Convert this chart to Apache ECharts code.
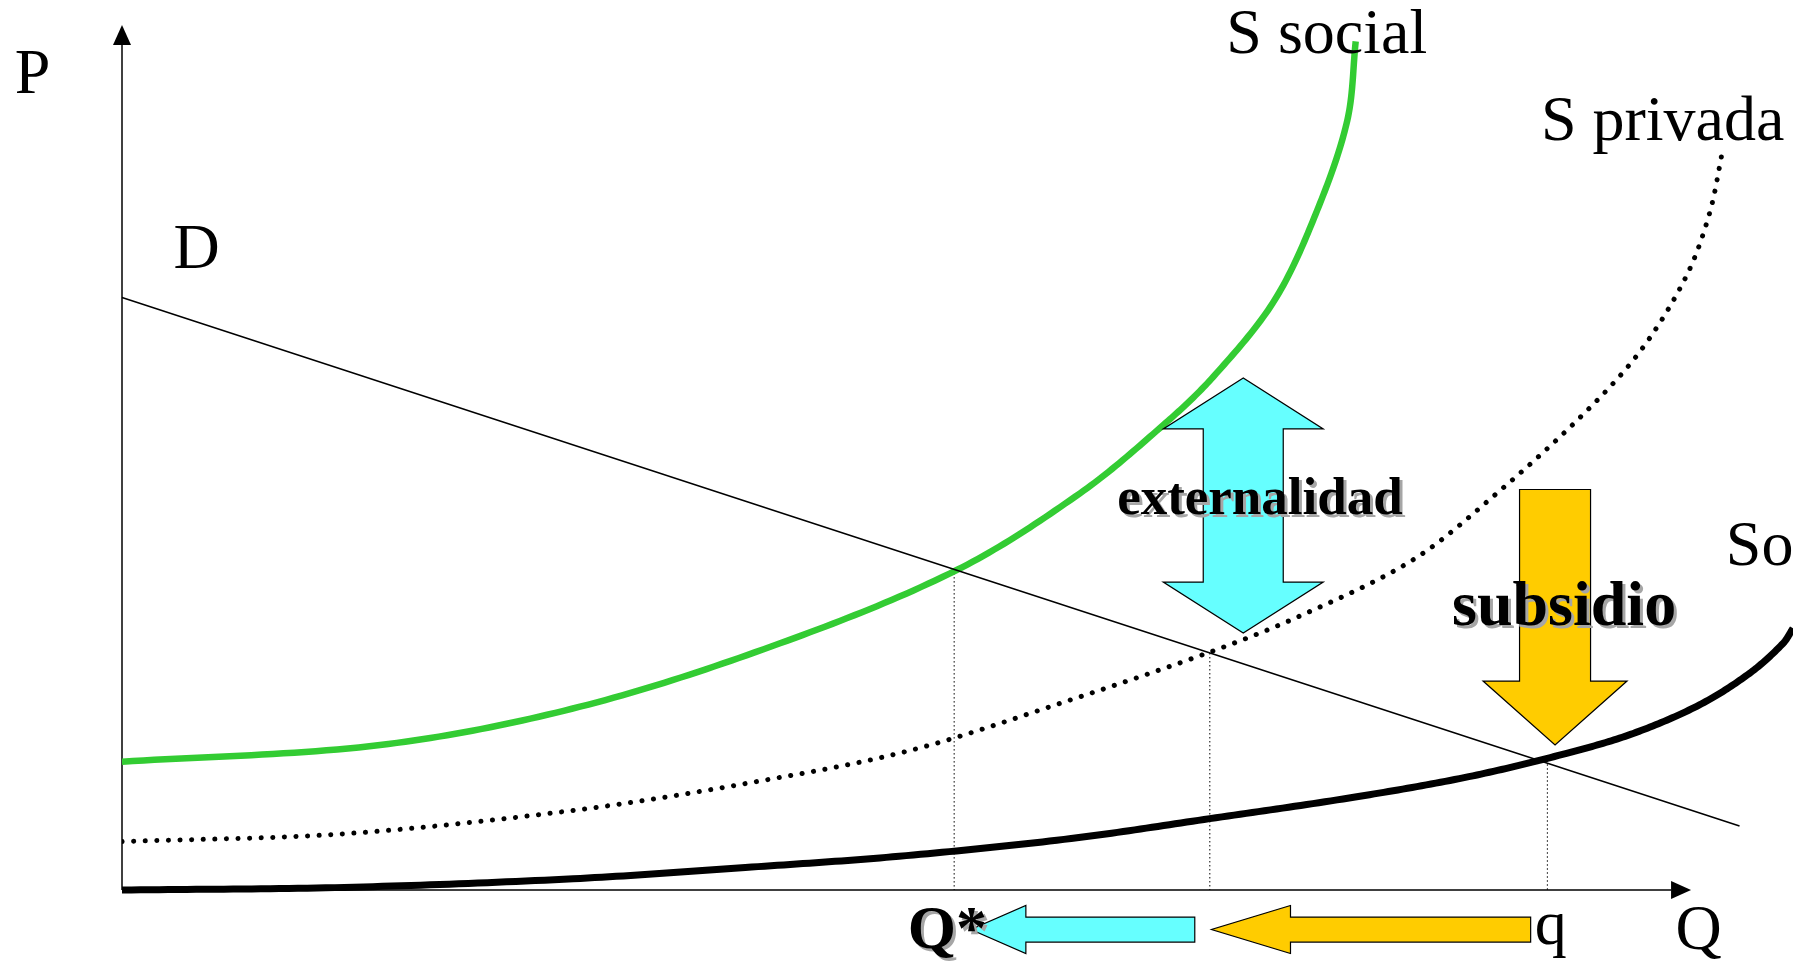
<!DOCTYPE html>
<html>
<head>
<meta charset="utf-8">
<title>Externalidad y subsidio</title>
<script src="https://cdn.jsdelivr.net/npm/echarts@6/dist/echarts.min.js"></script>
<style>
  html, body { margin: 0; padding: 0; background: #fff; }
  #chart { width: 1793px; height: 967px; }
</style>
</head>
<body>
<div id="chart"></div>
<script>
// demanda (D)
var demandX = [0, 96.8];
var demandY = [68.5, 7.4];

// S social (verde)
var socialX = [0, 15.44, 27.41, 39.38, 49.95, 57.33, 62.32, 65.31, 68.98, 71.53, 73.33, 73.83];
var socialY = [14.83, 16.76, 21.19, 28.52, 36.99, 45.86, 53.76, 59.34, 68.2, 78.6, 89.0, 98.1];

// S privada (punteada)
var privadaX = [0, 13.3, 27.0, 37.3, 47.1, 56.8, 65.1, 70.4, 77.2, 82.3, 87.5, 90.9, 93.6, 95.0, 95.8];
var privadaY = [5.6, 6.5, 9.2, 12.3, 16.1, 22.0, 27.5, 31.6, 38.1, 45.9, 55.1, 62.4, 70.9, 78.2, 85.6];

// So (negra, con subsidio)
var soX = [0, 13.3, 27.0, 37.3, 46.5, 56.8, 65.1, 73.8, 80.6, 86.45, 90.44, 94.4, 97.4, 99.4, 100];
var soY = [0.0, 0.3, 1.3, 2.6, 3.9, 5.95, 8.25, 10.75, 13.1, 15.8, 18.1, 21.4, 25.05, 28.5, 30.25];

// lineas de referencia verticales (Q*, intermedia, q)
var dropX = [49.8, 65.1, 85.3];
var dropTop = [37.1, 27.4, 15.0];

// flechas: [x desde, y desde, x hasta, y hasta]
var arrowNames = ['externalidad', 'subsidio', 'haciaQstar', 'desdeq'];
var arrowEnds = [
  [67.1, 59.2, 67.1, 29.7],
  [85.76, 46.3, 85.76, 16.76],
  [64.2, -4.57, 50.8, -4.57],
  [84.3, -4.57, 65.2, -4.57]
];

// ejes: origen -> punta
var axisEnds = [
  [0, 0, 0, 100],
  [0, 0, 93.9, 0]
];

// textos
var labelNames = ['P', 'D', 'S social', 'S privada', 'So', 'Q*', 'q', 'Q', 'externalidad', 'subsidio'];
var labelX = [-5.36, 4.46, 72.1, 92.2, 95.98, 49.4, 85.5, 94.35, 68.1, 86.3];
var labelY = [94.1, 73.8, 98.7, 88.6, 39.5, -4.8, -4.25, -4.9, 45.1, 32.5];

var serif = "'Liberation Serif', 'Times New Roman', serif";

// curvas de oferta y su trazo
var curves = [
  {xs: privadaX, ys: privadaY, style: {stroke: '#000', lineWidth: 5, lineDash: [0.1, 11.5], lineCap: 'round'}},
  {xs: soX, ys: soY, style: {stroke: '#000', lineWidth: 7}},
  {xs: socialX, ys: socialY, style: {stroke: '#33CC33', lineWidth: 6.5, lineCap: 'butt'}}
];

// curva suave (tangentes por diferencias, Bezier cubica) sobre los puntos ya en pixeles
function smoothPath(pts, steps) {
  var out = [pts[0]];
  var n = pts.length;
  function d(a, b) { return Math.sqrt((a[0] - b[0]) * (a[0] - b[0]) + (a[1] - b[1]) * (a[1] - b[1])); }
  function tangent(i) {
    var a = pts[Math.max(i - 1, 0)], b = pts[Math.min(i + 1, n - 1)];
    var l = d(a, pts[i]) + d(pts[i], b);
    return [(b[0] - a[0]) / l, (b[1] - a[1]) / l];
  }
  for (var i = 0; i < n - 1; i++) {
    var p1 = pts[i], p2 = pts[i + 1];
    var len = d(p1, p2) / 3;
    var t1 = tangent(i), t2 = tangent(i + 1);
    var c1 = [p1[0] + t1[0] * len, p1[1] + t1[1] * len];
    var c2 = [p2[0] - t2[0] * len, p2[1] - t2[1] * len];
    for (var s = 1; s <= steps; s++) {
      var t = s / steps, u = 1 - t;
      out.push([
        u * u * u * p1[0] + 3 * u * u * t * c1[0] + 3 * u * t * t * c2[0] + t * t * t * p2[0],
        u * u * u * p1[1] + 3 * u * u * t * c1[1] + 3 * u * t * t * c2[1] + t * t * t * p2[1]
      ]);
    }
  }
  return out;
}

// estilo de cada flecha
var arrowStyle = {
  externalidad: {fill: '#66FFFF', shaft: 80, head: 160, headLen: 51, both: true},
  subsidio: {fill: '#FFCC00', shaft: 71, head: 144, headLen: 64, both: false},
  haciaQstar: {fill: '#66FFFF', shaft: 25, head: 48, headLen: 55, both: false},
  desdeq: {fill: '#FFCC00', shaft: 25, head: 48, headLen: 79, both: false}
};

function arrowPoints(p1, p2, shaftW, headW, headL, both) {
  var dx = p2[0] - p1[0], dy = p2[1] - p1[1];
  var len = Math.sqrt(dx * dx + dy * dy);
  var ux = dx / len, uy = dy / len, nx = -uy, ny = ux;
  function pt(t, s) { return [p1[0] + ux * t + nx * s, p1[1] + uy * t + ny * s]; }
  var hs = shaftW / 2, hh = headW / 2;
  if (both) {
    return [pt(0, 0), pt(headL, hh), pt(headL, hs), pt(len - headL, hs), pt(len - headL, hh),
            pt(len, 0), pt(len - headL, -hh), pt(len - headL, -hs), pt(headL, -hs), pt(headL, -hh)];
  }
  return [pt(0, hs), pt(len - headL, hs), pt(len - headL, hh), pt(len, 0),
          pt(len - headL, -hh), pt(len - headL, -hs), pt(0, -hs)];
}

var labelStyles = {
  'Q*': {fontWeight: 'bold', fontSize: 62, shadow: true},
  'externalidad': {fontWeight: 'bold', fontSize: 53, shadow: true},
  'subsidio': {fontWeight: 'bold', fontSize: 64, shadow: true},
  'So': {align: 'left'}
};

var chart = echarts.init(document.getElementById('chart'), null, {renderer: 'canvas'});

var option = {
  backgroundColor: '#ffffff',
  animation: false,
  grid: {left: 122, right: 0, top: 25, bottom: 7.8},
  xAxis: {type: 'value', min: 0, max: 100, show: false},
  yAxis: {type: 'value', min: -8, max: 100, show: false},
  series: [
    {
      // ejes con flecha
      type: 'custom',
      z: 1,
      silent: true,
      data: axisEnds,
      renderItem: function (params, api) {
        var p1 = api.coord([api.value(0), api.value(1)]);
        var p2 = api.coord([api.value(2), api.value(3)]);
        var dx = p2[0] - p1[0], dy = p2[1] - p1[1];
        var len = Math.sqrt(dx * dx + dy * dy);
        var ux = dx / len, uy = dy / len;
        var hl = 20, hw = 9;
        var base = [p2[0] - ux * hl, p2[1] - uy * hl];
        return {
          type: 'group',
          children: [
            {type: 'line', shape: {x1: p1[0], y1: p1[1], x2: base[0], y2: base[1]},
             style: {stroke: '#000', lineWidth: 1.5}},
            {type: 'polygon', shape: {points: [p2, [base[0] - uy * hw, base[1] + ux * hw], [base[0] + uy * hw, base[1] - ux * hw]]},
             style: {fill: '#000'}}
          ]
        };
      }
    },
    {
      type: 'custom',
      z: 1,
      silent: true,
      data: dropX.map(function (x, i) { return [x, dropTop[i]]; }),
      renderItem: function (params, api) {
        var top = api.coord([api.value(0), api.value(1)]);
        var bottom = api.coord([api.value(0), 0]);
        return {type: 'line', shape: {x1: top[0], y1: top[1], x2: bottom[0], y2: bottom[1]},
                style: {stroke: '#000', lineWidth: 1, lineDash: [1.5, 2.5]}};
      }
    },
    {
      name: 'D',
      type: 'line',
      z: 2,
      data: demandX.map(function (x, i) { return [x, demandY[i]]; }),
      symbol: 'none',
      lineStyle: {color: '#000', width: 1.5}
    },
    {
      // S privada, So, S social
      type: 'custom',
      z: 2,
      silent: true,
      clip: true,
      data: curves.map(function (c) { return [c.xs[0], c.ys[0]]; }),
      renderItem: function (params, api) {
        var c = curves[params.dataIndex];
        var pts = c.xs.map(function (x, i) { return api.coord([x, c.ys[i]]); });
        return {
          type: 'polyline',
          shape: {points: smoothPath(pts, 24)},
          style: Object.assign({fill: null}, c.style)
        };
      }
    },
    {
      type: 'custom',
      z: 3,
      silent: true,
      data: arrowEnds,
      renderItem: function (params, api) {
        var st = arrowStyle[arrowNames[params.dataIndex]];
        var p1 = api.coord([api.value(0), api.value(1)]);
        var p2 = api.coord([api.value(2), api.value(3)]);
        return {
          type: 'polygon',
          shape: {points: arrowPoints(p1, p2, st.shaft, st.head, st.headLen, st.both)},
          style: {fill: st.fill, stroke: '#000', lineWidth: 1.2}
        };
      }
    },
    {
      // textos (las negritas llevan sombra gris)
      type: 'custom',
      z: 4,
      silent: true,
      data: labelNames.map(function (n, i) { return [labelX[i], labelY[i]]; }),
      renderItem: function (params, api) {
        var name = labelNames[params.dataIndex];
        var s = labelStyles[name] || {};
        var p = api.coord([api.value(0), api.value(1)]);
        var base = {
          text: name,
          fontFamily: serif,
          fontWeight: s.fontWeight || 'normal',
          fontSize: s.fontSize || 64,
          align: s.align || 'center',
          verticalAlign: 'middle'
        };
        var children = [];
        if (s.shadow) {
          children.push({type: 'text', x: p[0] + 3, y: p[1] + 3,
                         style: Object.assign({fill: '#a6a6a6'}, base)});
        }
        children.push({type: 'text', x: p[0], y: p[1], style: Object.assign({fill: '#000000'}, base)});
        return {type: 'group', children: children};
      }
    }
  ]
};

chart.setOption(option);
</script>
</body>
</html>
